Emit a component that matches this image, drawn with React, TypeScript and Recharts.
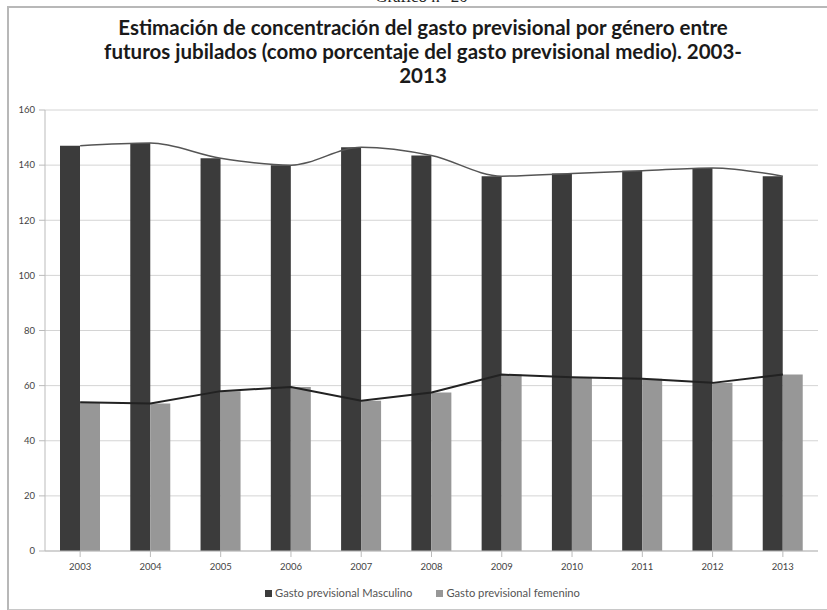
import React from 'react';
import {
  ComposedChart,
  Bar,
  Line,
  XAxis,
  YAxis,
  CartesianGrid,
} from 'recharts';

const years = ['2003', '2004', '2005', '2006', '2007', '2008', '2009', '2010', '2011', '2012', '2013'];
const masculino = [147, 148, 142.5, 140, 146.5, 143.5, 136, 137, 138, 139, 136];
const femenino = [54, 53.5, 58, 59.5, 54.5, 57.5, 64, 63, 62.5, 61, 64];
const yTicks = [0, 20, 40, 60, 80, 100, 120, 140, 160];

const seriesNames = ['Gasto previsional Masculino', 'Gasto previsional femenino'];
const seriesColors = ['#3b3b3b', '#979797'];

const titleLines = [
  'Estimación de concentración del gasto previsional por género entre',
  'futuros jubilados (como porcentaje del gasto previsional medio). 2003-',
  '2013',
];

const data = years.map((year, i) => ({
  year,
  masculino: masculino[i],
  femenino: femenino[i],
}));

const tickStyle = { fill: '#444', fontSize: 9.5, fontFamily: 'Lato, sans-serif' };

export default function App() {
  return (
    <div
      style={{
        position: 'absolute',
        left: 0,
        top: 0,
        width: 827,
        height: 610,
        overflow: 'hidden',
        background: '#fff',
      }}
    >
      <div
        style={{
          position: 'absolute',
          top: -13,
          left: 0,
          width: 843,
          textAlign: 'center',
          fontFamily: '"Liberation Serif", serif',
          fontSize: 17,
          color: '#222',
        }}
      >
        Gráfico n° 20
      </div>
      <div
        style={{
          position: 'absolute',
          left: 7,
          top: 6,
          width: 840,
          height: 601,
          borderTop: '2px solid #b8b8b8',
          borderLeft: '2px solid #b8b8b8',
          borderBottom: '2px solid #c8c8c8',
        }}
      />
      <div
        style={{
          position: 'absolute',
          top: 15,
          left: 0,
          width: 846,
          textAlign: 'center',
          fontFamily: 'Lato, sans-serif',
          fontWeight: 700,
          fontSize: 20.5,
          lineHeight: '24px',
          color: '#1a1a1a',
        }}
      >
        {titleLines.map((l) => (
          <div key={l}>{l}</div>
        ))}
      </div>
      <div style={{ position: 'absolute', left: 0, top: 0 }}>
        <ComposedChart
          width={827}
          height={610}
          data={data}
          margin={{ top: 110, right: 9, left: 8, bottom: 29 }}
          barGap={0}
          barSize={20}
        >
          <CartesianGrid vertical={false} stroke="#d4d4d4" />
          <XAxis
            dataKey="year"
            tick={tickStyle}
            tickLine={{ stroke: '#bbb' }}
            axisLine={{ stroke: '#bbb' }}
            interval={0}
            tickMargin={6}
            height={30}
          />
          <YAxis
            domain={[0, 160]}
            ticks={yTicks}
            tick={tickStyle}
            tickLine={{ stroke: '#bbb' }}
            axisLine={{ stroke: '#bbb' }}
            width={37}
            tickMargin={4}
          />
          <Bar
            dataKey="masculino"
            name={seriesNames[0]}
            fill={seriesColors[0]}
            isAnimationActive={false}
          />
          <Bar
            dataKey="femenino"
            name={seriesNames[1]}
            fill={seriesColors[1]}
            isAnimationActive={false}
          />
          <Line
            dataKey="masculino"
            type="monotone"
            stroke="#555"
            strokeWidth={1.5}
            dot={false}
            legendType="none"
            isAnimationActive={false}
          />
          <Line
            dataKey="femenino"
            type="linear"
            stroke="#222"
            strokeWidth={2}
            dot={false}
            legendType="none"
            isAnimationActive={false}
          />
        </ComposedChart>
      </div>
      {/* legend */}
      <div
        style={{
          position: 'absolute',
          top: 585,
          left: 265,
          display: 'flex',
          gap: 24,
          fontFamily: 'Lato, sans-serif',
          fontSize: 11.2,
          color: '#555',
          lineHeight: '16px',
        }}
      >
        {seriesNames.map((n, i) => (
          <div key={n} style={{ display: 'flex', alignItems: 'center', gap: 3 }}>
            <span style={{ width: 7, height: 7, background: seriesColors[i], display: 'inline-block' }} />
            <span>{n}</span>
          </div>
        ))}
      </div>
    </div>
  );
}
